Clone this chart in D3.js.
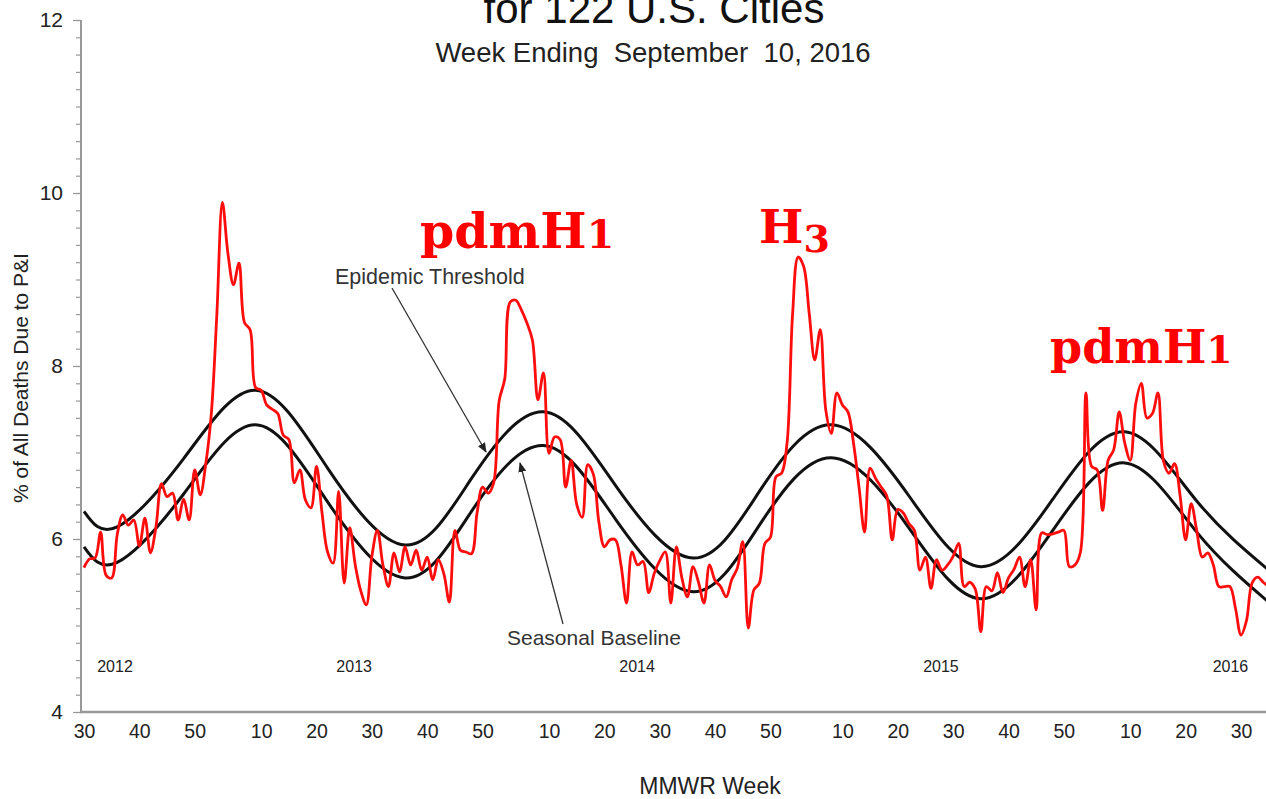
<!DOCTYPE html>
<html>
<head>
<meta charset="utf-8">
<script src="https://cdn.jsdelivr.net/npm/d3@7"></script>
<style>
  html, body { margin: 0; padding: 0; background: #fff; }
  svg { display: block; font-family: "Liberation Sans", Arial, sans-serif; }
</style>
</head>
<body>
<svg id="chart" width="1266" height="799"></svg>
<script>
// Pneumonia & influenza mortality, 122 U.S. Cities surveillance
// Weekly series starts at MMWR week 30 of 2012.
const firstYear = 2012;
const firstWeek = 30;
const weeksInYear = { 2012: 52, 2013: 52, 2014: 53, 2015: 52, 2016: 52 };

// % of all deaths due to P&I, one value per MMWR week
const pniPercent = [
  // 2012 wk 30-52
  5.67,5.77,5.78,6.08,5.58,5.55,6.05,6.28,6.16,6.22,5.92,6.24,5.84,6.14,6.64,6.49,6.53,6.22,6.46,6.22,6.80,6.51,6.87,
  // 2013
  7.45,8.60,9.89,9.30,8.94,9.19,8.50,8.42,7.75,7.72,
  7.55,7.50,7.45,7.20,7.15,6.65,6.80,6.45,6.36,6.84,
  6.30,5.85,5.72,6.55,5.49,6.13,5.70,5.40,5.24,5.80,
  6.10,5.70,5.45,5.84,5.62,5.91,5.70,5.87,5.64,5.79,
  5.53,5.76,5.60,5.27,6.10,5.87,5.85,5.83,6.30,6.60,
  6.53,6.65,
  // 2014
  7.60,7.85,8.74,8.76,8.65,8.50,8.30,7.61,7.92,6.99,
  7.18,7.15,6.60,6.91,6.40,6.25,6.86,6.75,6.20,5.91,
  5.99,5.99,5.70,5.26,5.85,5.70,5.74,5.38,5.60,5.75,
  5.85,5.26,5.91,5.55,5.33,5.68,5.50,5.26,5.70,5.52,
  5.45,5.33,5.53,5.66,5.97,4.97,5.41,5.49,5.95,6.02,
  6.72,6.76,7.11,
  // 2015
  8.60,9.26,9.15,8.61,8.07,8.42,7.49,7.22,7.69,7.55,
  7.47,7.11,6.60,6.08,6.82,6.70,6.60,6.50,5.99,6.34,
  6.30,6.18,6.10,5.64,5.79,5.43,5.76,5.64,5.70,5.80,
  5.95,5.45,5.50,5.42,4.93,5.45,5.40,5.61,5.38,5.55,
  5.65,5.79,5.45,5.76,5.18,6.07,6.05,6.06,6.08,6.10,
  5.68,5.70,
  // 2016 wk 1-35
  5.85,7.69,6.84,6.80,6.33,6.91,7.03,7.47,7.11,6.91,
  7.57,7.80,7.40,7.45,7.69,6.90,6.76,6.87,6.50,5.99,
  6.41,6.10,5.79,5.84,5.70,5.45,5.45,5.45,5.20,4.89,
  5.06,5.49,5.56,5.50,5.45
];

// Seasonal baseline and epidemic threshold, sampled at troughs, peaks and midpoints
const curveWeekIndex    = [0, 6, 18, 31, 44, 58, 70, 83, 96, 110, 122, 135, 149, 162, 175, 188, 201, 214];
const seasonalBaseline  = [5.91,5.73,6.52,7.32,6.43,5.55,6.32,7.08,6.23,5.39,6.16,6.94,6.13,5.31,6.10,6.88,6.08,5.27];
const epidemicThreshold = [6.32,6.14,6.93,7.72,6.82,5.93,6.70,7.47,6.62,5.78,6.55,7.32,6.50,5.68,6.46,7.24,6.44,5.64];

// Axis labels
const xTickYears  = [2012,2012,2012,2013,2013,2013,2013,2013,2014,2014,2014,2014,2014,2015,2015,2015,2015,2015,2016,2016,2016];
const xTickWeeks  = [30,40,50,10,20,30,40,50,10,20,30,40,50,10,20,30,40,50,10,20,30];
const yMajorTicks = [4, 6, 8, 10, 12];
const yearLabels  = ["2012", "2013", "2014", "2015", "2016"];
const yearLabelWeekIndex = [5.6, 48.8, 99.9, 154.8, 207.1];

// MMWR year/week -> running week index
function weekIndex(year, week) {
  let idx = 0;
  for (let y = firstYear; y < year; y++) idx += weeksInYear[y];
  return idx + week - firstWeek;
}

const svg = d3.select("#chart");

const x = d3.scaleLinear().domain([0, 209]).range([84, 1241]);
const y = d3.scaleLinear().domain([4, 12]).range([712, 20]);

const axisGray = "#999";
const textColor = "#222";

// Titles
svg.append("text")
  .attr("x", 654).attr("y", 23)
  .attr("text-anchor", "middle")
  .attr("font-size", 42)
  .attr("fill", "#111")
  .text("for 122 U.S. Cities");

svg.append("text")
  .attr("x", 653).attr("y", 62)
  .attr("text-anchor", "middle")
  .attr("font-size", 27.5)
  .attr("fill", textColor)
  .style("white-space", "pre")
  .text("Week Ending  September  10, 2016");

// Y axis: minor ticks every 0.2, labelled major ticks every 2
const yMinor = d3.axisLeft(y)
  .tickValues(d3.range(40, 121, 2).map(d => d / 10))
  .tickSize(5)
  .tickFormat("");
const gMinor = svg.append("g").attr("transform", "translate(81,0)").call(yMinor);
gMinor.select(".domain").remove();
gMinor.selectAll(".tick line").attr("stroke", axisGray).attr("stroke-width", 1.2);

const yMajor = d3.axisLeft(y)
  .tickValues(yMajorTicks)
  .tickSize(8)
  .tickPadding(10)
  .tickFormat(d3.format("d"));
const gMajor = svg.append("g").attr("transform", "translate(81,0)").call(yMajor);
gMajor.select(".domain").remove();
gMajor.selectAll(".tick line").attr("stroke", axisGray).attr("stroke-width", 1.2);
gMajor.selectAll(".tick text")
  .attr("font-size", 21)
  .attr("font-family", "'Liberation Sans', Arial, sans-serif")
  .attr("fill", textColor);

svg.append("line")
  .attr("x1", 81).attr("x2", 81)
  .attr("y1", y(12)).attr("y2", y(4))
  .attr("stroke", axisGray).attr("stroke-width", 2);

// X axis: week-number labels, no tick marks
const xTickIndex = xTickWeeks.map((w, i) => weekIndex(xTickYears[i], w));
const xAxis = d3.axisBottom(x)
  .tickValues(xTickIndex)
  .tickSize(0)
  .tickPadding(26)
  .tickFormat((d, i) => String(xTickWeeks[i]));
const gx = svg.append("g").attr("transform", `translate(0,${y(4)})`).call(xAxis);
gx.select(".domain").remove();
gx.selectAll(".tick text")
  .attr("font-size", 19.5)
  .attr("font-family", "'Liberation Sans', Arial, sans-serif")
  .attr("fill", textColor)
  .attr("dy", 0);

svg.append("line")
  .attr("x1", 80).attr("x2", 1266)
  .attr("y1", y(4)).attr("y2", y(4))
  .attr("stroke", axisGray).attr("stroke-width", 2.5);

// Year labels inside the plot
svg.append("g")
  .selectAll("text")
  .data(yearLabels)
  .join("text")
  .attr("x", (d, i) => x(yearLabelWeekIndex[i]))
  .attr("y", 672)
  .attr("text-anchor", "middle")
  .attr("font-size", 16)
  .attr("fill", textColor)
  .text(d => d);

// Axis titles
svg.append("text")
  .attr("transform", "translate(28,378) rotate(-90)")
  .attr("text-anchor", "middle")
  .attr("font-size", 21)
  .attr("fill", textColor)
  .text("% of All Deaths Due to P&I");

svg.append("text")
  .attr("x", 710).attr("y", 794)
  .attr("text-anchor", "middle")
  .attr("font-size", 23)
  .attr("fill", textColor)
  .text("MMWR Week");

// Seasonal baseline and epidemic threshold curves
const knotLine = values => d3.line()
  .x((d, i) => x(curveWeekIndex[i]))
  .y(d => y(d))
  .curve(d3.curveNatural)(values);

[seasonalBaseline, epidemicThreshold].forEach(series => {
  svg.append("path")
    .attr("d", knotLine(series))
    .attr("fill", "none")
    .attr("stroke", "#111")
    .attr("stroke-width", 3);
});

// Weekly P&I percentage
const pniLine = d3.line()
  .x((d, i) => x(i))
  .y(d => y(d))
  .curve(d3.curveCatmullRom.alpha(0.5));

svg.append("path")
  .attr("d", pniLine(pniPercent))
  .attr("fill", "none")
  .attr("stroke", "#ff0d0d")
  .attr("stroke-width", 2.8)
  .attr("stroke-linejoin", "round");

// Curve labels with arrows
const defs = svg.append("defs");
defs.append("marker")
  .attr("id", "arrowhead")
  .attr("viewBox", "0 0 10 10")
  .attr("refX", 9).attr("refY", 5)
  .attr("markerWidth", 10).attr("markerHeight", 10)
  .attr("markerUnits", "userSpaceOnUse")
  .attr("orient", "auto")
  .append("path")
  .attr("d", "M0,1 L10,5 L0,9 Z")
  .attr("fill", "#222");

svg.append("text")
  .attr("x", 335).attr("y", 284)
  .attr("font-size", 21.5)
  .attr("fill", "#333")
  .text("Epidemic Threshold");

svg.append("line")
  .attr("x1", 392).attr("y1", 288)
  .attr("x2", 486).attr("y2", 452)
  .attr("stroke", "#333").attr("stroke-width", 1.3)
  .attr("marker-end", "url(#arrowhead)");

svg.append("text")
  .attr("x", 507).attr("y", 645)
  .attr("font-size", 21)
  .attr("fill", "#333")
  .text("Seasonal Baseline");

svg.append("line")
  .attr("x1", 563).attr("y1", 624)
  .attr("x2", 520).attr("y2", 463)
  .attr("stroke", "#333").attr("stroke-width", 1.3)
  .attr("marker-end", "url(#arrowhead)");

// Dominant virus annotations
const virusNotes = [
  { name: "pdmH", digit: "1", x: 420, y: 248, size: 49, drop: 0 },
  { name: "H",    digit: "3", x: 759, y: 243, size: 47, drop: 9 },
  { name: "pdmH", digit: "1", x: 1050, y: 363, size: 46, drop: 0 }
];
virusNotes.forEach(n => {
  const t = svg.append("text")
    .attr("x", n.x).attr("y", n.y)
    .attr("font-family", "'DejaVu Serif', 'Liberation Serif', serif")
    .attr("font-weight", "bold")
    .attr("font-size", n.size)
    .attr("fill", "#ff0000");
  t.append("tspan").text(n.name);
  t.append("tspan")
    .attr("font-size", n.size * 0.81)
    .attr("dy", n.drop)
    .text(n.digit);
});
</script>
</body>
</html>
